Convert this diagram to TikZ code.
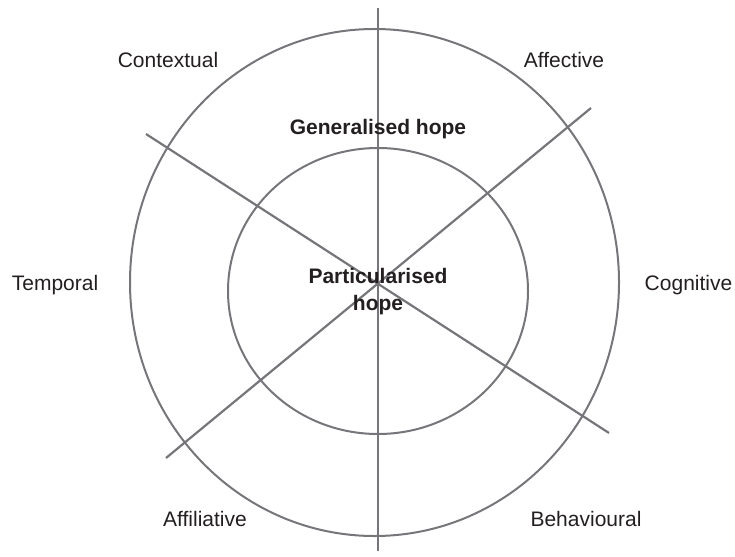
\documentclass[tikz,border=0pt]{standalone}
\usepackage{fontspec}
\setmainfont{Liberation Sans}
\definecolor{linegray}{RGB}{118,118,122}
\definecolor{textdark}{RGB}{35,31,32}
\begin{document}
\begin{tikzpicture}[x=1pt,y=-1pt,
  ring/.style={draw=linegray,line width=2pt},
  spoke/.style={draw=linegray,line width=2.2pt},
  axis/.style={draw=linegray,line width=2.6pt},
  lbl/.style={anchor=base,inner sep=0pt,font=\fontsize{21}{25}\selectfont,text=textdark},
  core/.style={inner sep=0pt,font=\fontsize{21}{27}\selectfont\bfseries,text=textdark,align=center}]
\useasboundingbox (0,0) rectangle (735,556);
% rings
\draw[ring] (374.5,282.5) ellipse [x radius=244.5, y radius=253.5];
\draw[ring] (378,291) ellipse [x radius=150, y radius=143];
% spokes
\coordinate (vt) at (378,8);
\coordinate (vb) at (378,551);
\coordinate (d1a) at (146,134);
\coordinate (d1b) at (609,433);
\coordinate (d2a) at (591,108);
\coordinate (d2b) at (166,458);
\draw[axis] (vt) -- (vb);
\draw[spoke] (d1a) -- (d1b);
\draw[spoke] (d2a) -- (d2b);
% labels
\node[lbl] (contextual) at (168,68) {Contextual};
\node[lbl] (affective) at (564,68) {Affective};
\node[lbl] (temporal) at (55,290) {Temporal};
\node[lbl] (cognitive) at (688.5,290) {Cognitive};
\node[lbl] (affiliative) at (205,526) {Affiliative};
\node[lbl] (behavioural) at (586,526) {Behavioural};
\node[lbl,font=\fontsize{21}{25}\selectfont\bfseries] (general) at (378,135) {Generalised hope};
\node[core] (particular) at (378,292) {Particularised\\hope};
\end{tikzpicture}
\end{document}
